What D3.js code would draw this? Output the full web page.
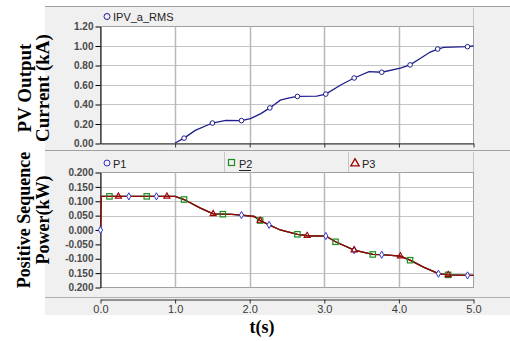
<!DOCTYPE html>
<html><head><meta charset="utf-8">
<script src="https://cdn.jsdelivr.net/npm/d3@7"></script>
<style>body{margin:0;background:#fff}svg{display:block}</style>
</head><body>
<svg id="c" width="510" height="341"></svg>
<script>
// ---- data ----
const xTickValues = [0, 1, 2, 3, 4, 5];
const xTickLabels = ["0.0", "1.0", "2.0", "3.0", "4.0", "5.0"];
const topTickValues = [0, 0.2, 0.4, 0.6, 0.8, 1.0, 1.2];
const topTickLabels = ["0.00", "0.20", "0.40", "0.60", "0.80", "1.00", "1.20"];
const botTickValues = [0.2, 0.15, 0.1, 0.05, 0, -0.05, -0.1, -0.15, -0.2];
const botTickLabels = ["0.200", "0.150", "0.100", "0.050", "0.000", "-0.050", "-0.100", "0.150", "0.200"];
const botGridValues = [0.15, 0.1, 0.05, -0.15];

const ipvT = [1.00,1.12,1.27,1.50,1.68,1.89,2.01,2.15,2.27,2.41,2.53,2.64,2.90,3.02,3.22,3.40,3.60,3.77,4.02,4.15,4.29,4.42,4.52,4.60,4.92,5.00];
const ipvV = [0.005,0.055,0.134,0.21,0.238,0.235,0.255,0.307,0.365,0.445,0.468,0.483,0.486,0.507,0.60,0.672,0.737,0.731,0.772,0.806,0.875,0.938,0.969,0.985,0.993,1.0];
const ipvMarkT = [1.12,1.50,1.89,2.27,2.64,3.02,3.40,3.77,4.15,4.52,4.92];
const ipvMarkV = [0.055,0.21,0.235,0.365,0.483,0.507,0.672,0.731,0.806,0.969,0.993];

const pT  = [0.00,0.01,1.00,1.12,1.34,1.51,1.64,1.76,1.89,2.06,2.14,2.26,2.41,2.64,2.77,3.02,3.15,3.40,3.65,3.77,4.02,4.15,4.33,4.53,4.66,4.92,5.00];
const p1V = [0.000,0.117,0.117,0.106,0.076,0.056,0.055,0.054,0.052,0.047,0.033,0.018,0.000,-0.015,-0.020,-0.021,-0.041,-0.070,-0.085,-0.086,-0.091,-0.105,-0.129,-0.152,-0.156,-0.158,-0.158];
const p2V = [0.000,0.117,0.117,0.106,0.076,0.056,0.055,0.054,0.052,0.047,0.033,0.018,0.000,-0.015,-0.020,-0.021,-0.041,-0.070,-0.085,-0.086,-0.091,-0.105,-0.129,-0.152,-0.156,-0.158,-0.158];
const p3V = [0.000,0.117,0.117,0.106,0.076,0.056,0.055,0.054,0.052,0.047,0.033,0.018,0.000,-0.015,-0.020,-0.021,-0.041,-0.070,-0.085,-0.086,-0.091,-0.105,-0.129,-0.152,-0.156,-0.158,-0.158];
const p1MarkT = [0.00,0.38,0.75,1.89,2.26,3.02,3.40,3.77,4.53,4.92];
const p1MarkV = [0.000,0.117,0.117,0.052,0.018,-0.021,-0.070,-0.086,-0.152,-0.158];
const p2MarkT = [0.12,0.62,1.12,1.64,2.14,2.64,3.15,3.65,4.15,4.66];
const p2MarkV = [0.117,0.117,0.106,0.055,0.033,-0.015,-0.041,-0.085,-0.105,-0.156];
const p3MarkT = [0.24,0.89,1.51,2.14,2.77,3.40,4.02,4.66];
const p3MarkV = [0.117,0.117,0.056,0.033,-0.020,-0.070,-0.091,-0.156];

// ---- drawing ----
const svg = d3.select("#c");
const C = {bg:"#f0f0f0", border:"#a0a0a0", grid:"#c4c4c4", vgrid:"#b8b8b8", txt:"#3a3a3a",
  navy:"#1e1e8c", blue:"#3232c8", green:"#1e8c1e", red:"#a00000"};

const x = d3.scaleLinear().domain([0,5]).range([100.5, 473.5]);
const yT = d3.scaleLinear().domain([0,1.2]).range([143.5, 26.5]);
const yB = d3.scaleLinear().domain([-0.2,0.2]).range([287.5, 172.5]);

svg.append("rect").attr("x",45).attr("y",6).attr("width",465).attr("height",309).attr("fill",C.bg);
svg.append("line").attr("x1",45).attr("x2",510).attr("y1",6.5).attr("y2",6.5).attr("stroke",C.border);
svg.append("line").attr("x1",45).attr("x2",510).attr("y1",150.5).attr("y2",150.5).attr("stroke",C.border);
svg.append("line").attr("x1",473.5).attr("x2",473.5).attr("y1",8).attr("y2",26).attr("stroke","#c8c8c8");
[224.5,348.5,473.5].forEach(v=>svg.append("line").attr("x1",v).attr("x2",v).attr("y1",152).attr("y2",172).attr("stroke","#c8c8c8"));

function panel(y, gridVals, tickVals, tickLabels) {
  const [yb, yt] = y.range();
  svg.append("rect").attr("x",x(0)).attr("y",yt).attr("width",x(5)-x(0)).attr("height",yb-yt)
    .attr("fill","#fff").attr("stroke",C.border);
  const g = svg.append("g");
  g.selectAll(".hg").data(gridVals).join("line")
    .attr("x1",x(0)).attr("x2",x(5)).attr("y1",d=>Math.round(y(d))+0.5).attr("y2",d=>Math.round(y(d))+0.5)
    .attr("stroke",C.grid).attr("stroke-width",1.2);
  g.selectAll(".vg").data([1,2,3,4]).join("line")
    .attr("x1",d=>Math.round(x(d))+0.5).attr("x2",d=>Math.round(x(d))+0.5).attr("y1",yt).attr("y2",yb)
    .attr("stroke",C.vgrid).attr("stroke-width",1.5);
  const ax = svg.append("g").attr("transform",`translate(${x(0)},0)`)
    .call(d3.axisLeft(y).tickValues(tickVals).tickFormat((d,i)=>tickLabels[i]).tickSize(5).tickSizeOuter(0));
  ax.select(".domain").attr("stroke","#000");
  ax.selectAll(".tick line").attr("stroke","#000");
  ax.selectAll("text").attr("font-family","Liberation Sans, Arial, sans-serif").attr("font-size",10)
    .attr("font-weight","bold").attr("fill","#4a4a4a").attr("x",-7);
}
panel(yT, [0.2,0.4,0.6,0.8,1.0], topTickValues, topTickLabels);
panel(yB, botGridValues, botTickValues, botTickLabels);

const axT = svg.append("g").attr("transform","translate(0,143.5)")
  .call(d3.axisBottom(x).tickValues([1,2,3,4,5]).tickFormat("").tickSize(4).tickSizeOuter(0));
axT.select(".domain").attr("stroke","#333");
axT.selectAll(".tick line").attr("stroke","#333");

svg.append("line").attr("x1",45).attr("x2",510).attr("y1",297.5).attr("y2",297.5).attr("stroke","#b0b0b0");
const axB = svg.append("g").attr("transform","translate(0,299.5)")
  .call(d3.axisBottom(x).tickValues(xTickValues).tickFormat((d,i)=>xTickLabels[i]).tickSize(4).tickSizeOuter(0));
axB.select(".domain").attr("stroke","#333");
axB.selectAll(".tick line").attr("stroke","#333");
axB.selectAll("text").attr("font-family","Liberation Sans, Arial, sans-serif").attr("font-size",11)
  .attr("fill",C.txt).attr("y",6);

const lineT = d3.line().x(d=>x(d[0])).y(d=>yT(d[1]));
svg.append("path").datum(d3.zip(ipvT, ipvV)).attr("d",lineT).attr("fill","none")
  .attr("stroke",C.navy).attr("stroke-width",1.3);
svg.selectAll(".mt").data(d3.zip(ipvMarkT, ipvMarkV)).join("circle")
  .attr("cx",d=>x(d[0])).attr("cy",d=>yT(d[1])).attr("r",2.3)
  .attr("fill","#fff").attr("stroke",C.navy).attr("stroke-width",1);

const lineB = d3.line().x(d=>x(d[0])).y(d=>yB(d[1]));
[[p1V,C.blue],[p2V,C.green],[p3V,C.red]].forEach(([v,c])=>{
  svg.append("path").datum(d3.zip(pT, v)).attr("d",lineB).attr("fill","none")
    .attr("stroke",c).attr("stroke-width",1.3);
});
svg.selectAll(".m1").data(d3.zip(p1MarkT,p1MarkV)).join("path")
  .attr("d",d3.symbol(d3.symbolDiamond,15)).attr("transform",d=>`translate(${x(d[0])},${yB(d[1])})`)
  .attr("fill","#fff").attr("stroke",C.blue).attr("stroke-width",1);
svg.selectAll(".m2").data(d3.zip(p2MarkT,p2MarkV)).join("rect")
  .attr("x",d=>x(d[0])-2.7).attr("y",d=>yB(d[1])-2.7).attr("width",5.4).attr("height",5.4)
  .attr("fill","none").attr("stroke",C.green).attr("stroke-width",1.2);
svg.selectAll(".m3").data(d3.zip(p3MarkT,p3MarkV)).join("path")
  .attr("d",d3.symbol(d3.symbolTriangle,16)).attr("transform",d=>`translate(${x(d[0])},${yB(d[1])})`)
  .attr("fill","none").attr("stroke",C.red).attr("stroke-width",1.1);

const lf = "Liberation Sans, Arial, sans-serif";
svg.append("circle").attr("cx",107).attr("cy",16.5).attr("r",3).attr("fill","none").attr("stroke",C.navy);
svg.append("text").attr("x",113).attr("y",21).text("IPV_a_RMS").attr("font-family",lf).attr("font-size",11).attr("fill","#222");
svg.append("circle").attr("cx",107).attr("cy",163).attr("r",3).attr("fill","none").attr("stroke",C.blue);
svg.append("text").attr("x",113).attr("y",167.5).text("P1").attr("font-family",lf).attr("font-size",11).attr("fill","#222");
svg.append("rect").attr("x",228.5).attr("y",159.5).attr("width",6).attr("height",6).attr("fill","none").attr("stroke",C.green).attr("stroke-width",1.2);
svg.append("text").attr("x",239).attr("y",167.5).text("P2").attr("font-family",lf).attr("font-size",11).attr("fill","#222");
svg.append("line").attr("x1",239).attr("x2",251).attr("y1",170.5).attr("y2",170.5).attr("stroke","#222");
svg.append("path").attr("d",d3.symbol(d3.symbolTriangle,30)).attr("transform","translate(355,163.5)")
  .attr("fill","none").attr("stroke",C.red).attr("stroke-width",1.3);
svg.append("text").attr("x",362).attr("y",167.5).text("P3").attr("font-family",lf).attr("font-size",11).attr("fill","#222");

const tf = "Liberation Serif, Times New Roman, serif";
function vtitle(txt, cx, cy, size) {
  svg.append("text").attr("transform",`translate(${cx},${cy}) rotate(-90)`).attr("text-anchor","middle")
    .attr("dy","0.35em").attr("font-family",tf).attr("font-weight","bold").attr("font-size",size).attr("fill","#000").text(txt);
}
vtitle("PV Output", 24, 88, 19);
vtitle("Current (kA)", 42, 88, 19);
vtitle("Positive Sequence", 24, 220, 18);
vtitle("Power(kW)", 43, 220, 18);
svg.append("text").attr("x",262).attr("y",333).attr("text-anchor","middle").attr("font-family",tf)
  .attr("font-weight","bold").attr("font-size",18).text("t(s)");
</script>
</body></html>
